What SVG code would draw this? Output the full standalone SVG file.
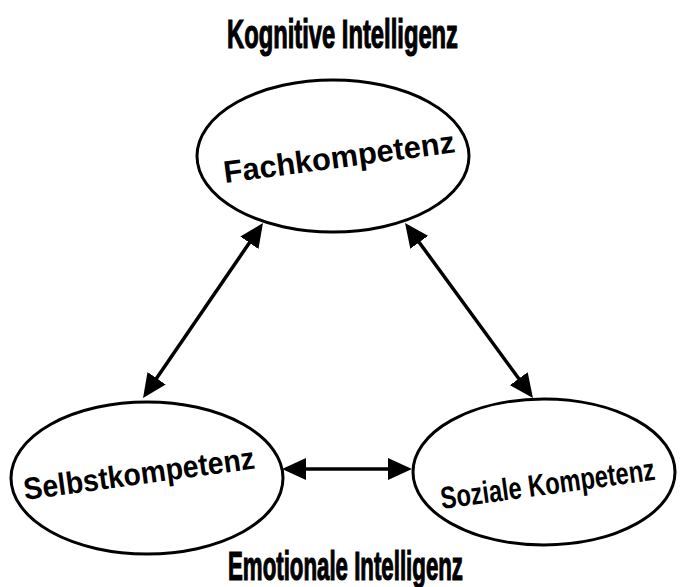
<svg xmlns="http://www.w3.org/2000/svg" width="682" height="587" viewBox="0 0 682 587">
  <style>
    .node { fill: #ffffff; stroke: #000000; stroke-width: 3; }
    .label { font-family: "Liberation Sans", "DejaVu Sans", sans-serif; font-size: 31px; font-weight: bold; fill: #000; }
    .title { font-family: "Liberation Sans", "DejaVu Sans", sans-serif; font-size: 40px; font-weight: bold; fill: #000; stroke: #000; stroke-width: 1.2; }
    .conn { stroke: #000; stroke-width: 3.5; fill: none; marker-start: url(#ah); marker-end: url(#ah); }
  </style>
  <defs>
    <marker id="ah" markerUnits="userSpaceOnUse" markerWidth="24" markerHeight="22" refX="20" refY="11" orient="auto-start-reverse" viewBox="0 0 24 22">
      <path d="M0,0 L24,11 L0,22 z" fill="#000"/>
    </marker>
  </defs>
  <rect width="682" height="587" fill="#ffffff"/>

  <text class="title" x="227" y="48" textLength="231" lengthAdjust="spacingAndGlyphs">Kognitive Intelligenz</text>
  <text class="title" x="228" y="580" textLength="235" lengthAdjust="spacingAndGlyphs">Emotionale Intelligenz</text>

  <g id="connectors">
    <line class="conn" x1="145.3" y1="394.7" x2="260.7" y2="226.3"/>
    <line class="conn" x1="407.4" y1="226.2" x2="530.6" y2="394.8"/>
    <line class="conn" x1="286" y1="469" x2="408" y2="469"/>
  </g>

  <g id="fachkompetenz">
    <ellipse class="node" cx="333" cy="156" rx="136" ry="76"/>
    <text class="label" x="225" y="183" transform="rotate(-7.6 225 183)" textLength="233" lengthAdjust="spacingAndGlyphs">Fachkompetenz</text>
  </g>

  <g id="selbstkompetenz">
    <ellipse class="node" cx="147" cy="478" rx="136" ry="76"/>
    <text class="label" x="25" y="500" transform="rotate(-7.8 25 500)" textLength="233" lengthAdjust="spacingAndGlyphs">Selbstkompetenz</text>
  </g>

  <g id="soziale-kompetenz">
    <ellipse class="node" cx="544" cy="472" rx="131" ry="73"/>
    <text class="label" x="442" y="509" transform="rotate(-7.8 442 509)" textLength="216" lengthAdjust="spacingAndGlyphs">Soziale Kompetenz</text>
  </g>
</svg>
